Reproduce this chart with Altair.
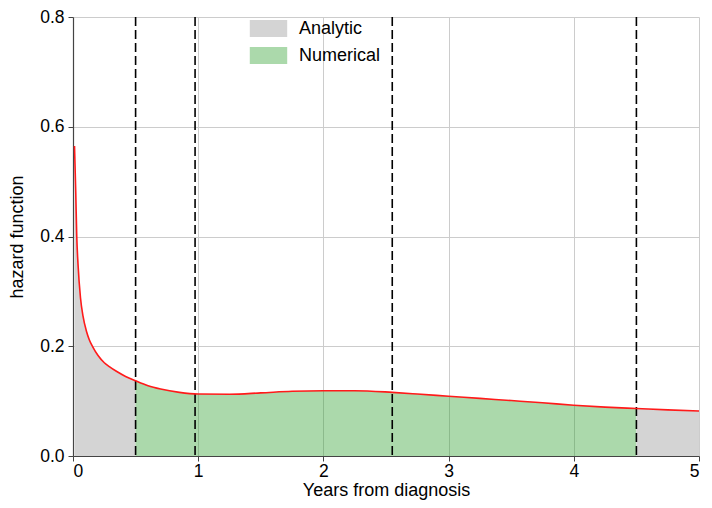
import altair as alt
import pandas as pd

# Curve
years = [0.012, 0.022, 0.03, 0.04, 0.06, 0.08, 0.108, 0.13, 0.16, 0.2, 0.25, 0.29,
         0.35, 0.42, 0.5, 0.6, 0.7, 0.85, 1.0, 1.25, 1.5, 1.75, 2.0, 2.25, 2.55,
         2.75, 3.0, 3.25, 3.5, 3.75, 4.0, 4.25, 4.5, 4.75, 5.0]
hazard = [0.565, 0.48, 0.40, 0.35, 0.288, 0.255, 0.227, 0.212, 0.198, 0.183, 0.170, 0.163,
          0.154, 0.145, 0.137, 0.128, 0.122, 0.116, 0.113, 0.1125, 0.115, 0.118, 0.119, 0.119, 0.116,
          0.113, 0.109, 0.105, 0.101, 0.097, 0.0925, 0.089, 0.0865, 0.084, 0.082]
knots = [0.5, 0.975, 2.55, 4.5]
segments = [("a1", "Analytic", 0.0, 0.5), ("n", "Numerical", 0.5, 4.5), ("a2", "Analytic", 4.5, 5.0)]
types = ["Analytic", "Numerical"]
type_colors = ["#d4d4d4", "rgba(44,160,44,0.4)"]

curve = pd.DataFrame({"year": years, "hazard": hazard})
rows = []
for seg, typ, lo, hi in segments:
    for x, y in zip(years, hazard):
        if lo <= x <= hi:
            rows.append({"year": x, "hazard": y, "seg": seg, "type": typ})
area_df = pd.DataFrame(rows)
knot_df = pd.DataFrame({"knot": knots})

FONT = "Liberation Sans"
xscale = alt.Scale(domain=[0, 5], nice=False)
yscale = alt.Scale(domain=[0, 0.8], nice=False)
xaxis = alt.Axis(values=[0, 1, 2, 3, 4, 5], format="d", title="Years from diagnosis")
yaxis = alt.Axis(values=[0, 0.2, 0.4, 0.6, 0.8], format=".1f", title="hazard function")

area = alt.Chart(area_df).mark_area(interpolate="monotone").encode(
    x=alt.X("year:Q", scale=xscale, axis=xaxis),
    y=alt.Y("hazard:Q", scale=yscale, axis=yaxis, stack=None),
    color=alt.Color("type:N", scale=alt.Scale(domain=types, range=type_colors),
                    legend=alt.Legend(title=None, orient="none", legendX=186.5, legendY=2.5,
                                      symbolType="M-2.2,-1L2.2,-1L2.2,1L-2.2,1Z",
                                      symbolSize=289, symbolStrokeWidth=0, symbolOpacity=1,
                                      labelFontSize=18, labelFont=FONT, labelColor="black",
                                      labelOffset=21.5, rowPadding=9, padding=0)),
    detail="seg:N",
)

rules = alt.Chart(knot_df).mark_rule(color="black", strokeDash=[9, 4], strokeWidth=1.6).encode(
    x=alt.X("knot:Q", scale=xscale)
)

line = alt.Chart(curve).mark_line(color="#ff1a1a", strokeWidth=1.6, interpolate="monotone").encode(
    x=alt.X("year:Q", scale=xscale),
    y=alt.Y("hazard:Q", scale=yscale),
)

chart = alt.layer(area, rules, line).properties(
    width=626, height=439,
    autosize=alt.AutoSizeParams(type="none"),
    padding={"left": 65, "top": 9, "right": 5, "bottom": 44},
).configure_view(stroke=None).configure_axis(
    labelFont=FONT, titleFont=FONT, labelFontSize=17.5, titleFontSize=18,
    titleFontWeight="normal", labelColor="black", titleColor="black",
    domainColor="#444444", tickColor="#444444", tickSize=5, domainWidth=1.2,
    gridColor="#cccccc", gridWidth=1,
).configure_axisY(titlePadding=13, labelPadding=4).configure_axisX(titlePadding=1.5, labelPadding=1)

chart.save("out.html", embed_options={"renderer": "svg", "actions": False})
